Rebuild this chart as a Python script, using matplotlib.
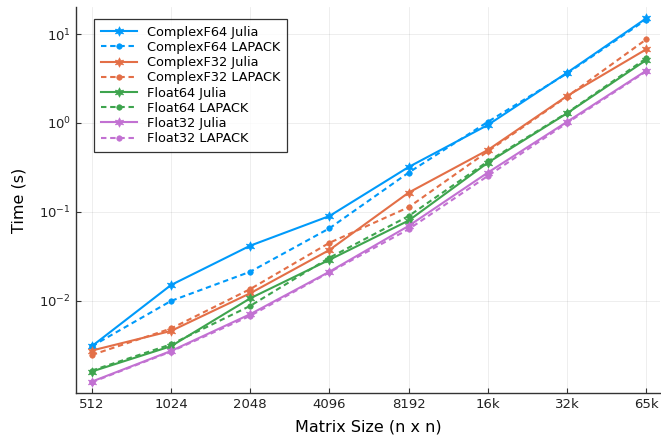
import numpy as np
import matplotlib.pyplot as plt

# matrix sizes on the x axis
sizes = ["512", "1024", "2048", "4096", "8192", "16k", "32k", "65k"]

# timings in seconds
cf64_julia = [0.0031, 0.0151, 0.0418, 0.090, 0.32, 0.95, 3.67, 15.0]
cf64_lapack = [0.0031, 0.0100, 0.0213, 0.0655, 0.277, 1.03, 3.6, 14.5]
cf32_julia = [0.00277, 0.0046, 0.0122, 0.0374, 0.165, 0.497, 2.01, 6.73]
cf32_lapack = [0.00247, 0.0049, 0.0136, 0.045, 0.113, 0.48, 1.98, 8.7]
f64_julia = [0.00161, 0.0031, 0.0107, 0.029, 0.080, 0.358, 1.285, 5.1]
f64_lapack = [0.00165, 0.00325, 0.0088, 0.0306, 0.090, 0.37, 1.30, 5.33]
f32_julia = [0.00124, 0.00274, 0.0071, 0.0213, 0.0697, 0.277, 1.03, 3.87]
f32_lapack = [0.00122, 0.0027, 0.0068, 0.0210, 0.064, 0.254, 1.00, 3.80]

blue, orange, green, purple = "#009AFA", "#E36F47", "#3EA44E", "#C271D2"

series = [
    ("ComplexF64 Julia", cf64_julia, blue, "-", "*"),
    ("ComplexF64 LAPACK", cf64_lapack, blue, "--", "o"),
    ("ComplexF32 Julia", cf32_julia, orange, "-", "*"),
    ("ComplexF32 LAPACK", cf32_lapack, orange, "--", "o"),
    ("Float64 Julia", f64_julia, green, "-", "*"),
    ("Float64 LAPACK", f64_lapack, green, "--", "o"),
    ("Float32 Julia", f32_julia, purple, "-", "*"),
    ("Float32 LAPACK", f32_lapack, purple, "--", "o"),
]

fig = plt.figure(figsize=(6.61, 4.41), dpi=100)
ax = fig.add_axes([0.115, 0.109, 0.883, 0.875])

x = np.arange(len(sizes))
for label, vals, col, ls, mk in series:
    if mk == "*":
        line, = ax.plot(x, vals, color=col, linestyle=ls, marker=(6, 1, 0),
                        markersize=7, linewidth=1.5, label=label,
                        markeredgewidth=0.4)
    else:
        line, = ax.plot(x, vals, color=col, linestyle=ls, marker="o",
                        markersize=4, linewidth=1.5, label=label,
                        markeredgewidth=0.4)
        line.set_dashes((2.6, 1.8))

ax.set_yscale("log")
ax.set_xlim(-0.2, 7.17)
ax.set_ylim(10**-3.034, 10**1.303)
ax.set_xticks(x)
ax.set_xticklabels(sizes)
ax.set_yticks([1e-2, 1e-1, 1e0, 1e1])
ax.yaxis.set_minor_locator(plt.NullLocator())

ax.grid(True, color="black", alpha=0.08, linewidth=0.6)
for side in ["top", "right"]:
    ax.spines[side].set_visible(False)
for side in ["left", "bottom"]:
    ax.spines[side].set_color("#333333")
    ax.spines[side].set_linewidth(1.0)
ax.tick_params(direction="in", length=3.5, labelsize=9.5, colors="#333333",
               labelcolor="#222222")

ax.set_xlabel("Matrix Size (n x n)", fontsize=11.5, labelpad=6)
ax.set_ylabel("Time (s)", fontsize=11.5, labelpad=9)

leg = ax.legend(loc="upper left", fontsize=9.3, frameon=True, fancybox=False,
                edgecolor="black", handlelength=2.8, labelspacing=0.17,
                borderpad=0.5, bbox_to_anchor=(0.02, 0.985))
leg.get_frame().set_linewidth(0.9)

fig.savefig("out.png", dpi=100)
